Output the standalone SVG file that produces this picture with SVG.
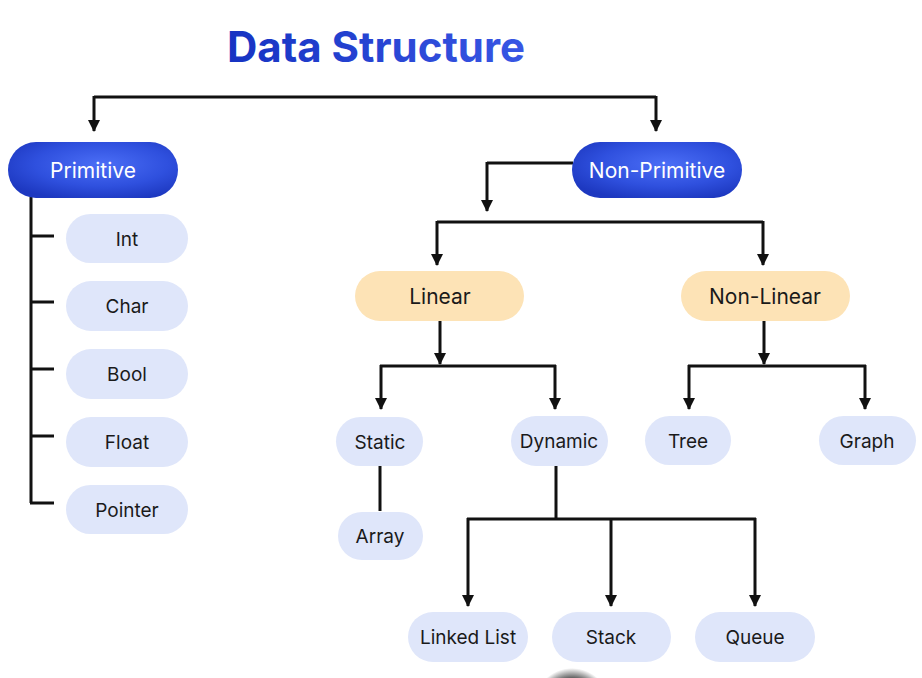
<svg xmlns="http://www.w3.org/2000/svg" width="922" height="678" viewBox="0 0 922 678">
<defs>
<radialGradient id="gBlue" cx="0.55" cy="0.4" r="0.65">
<stop offset="0" stop-color="#4b6ef6"/>
<stop offset="0.6" stop-color="#2f50de"/>
<stop offset="1" stop-color="#1d38c0"/>
</radialGradient>
<linearGradient id="gTitle" x1="0" y1="0" x2="1" y2="0">
<stop offset="0" stop-color="#1633c2"/>
<stop offset="1" stop-color="#3856e4"/>
</linearGradient>
<radialGradient id="gBlob" cx="0.5" cy="0.5" r="0.5">
<stop offset="0.7" stop-color="#4a4a4a"/>
<stop offset="1" stop-color="#4a4a4a" stop-opacity="0"/>
</radialGradient>
<marker id="arr" viewBox="0 0 12 12" refX="11" refY="6" markerWidth="12" markerHeight="12" markerUnits="userSpaceOnUse" orient="auto">
<path d="M0,0 L12,6 L0,12 Z" fill="#111"/>
</marker>
</defs>
<style>
text{font-family:Inter,"Liberation Sans",sans-serif;text-anchor:middle;dominant-baseline:central}
.title{font-size:42px;font-weight:700;fill:url(#gTitle)}
.dark rect{fill:url(#gBlue)}
.dark text{fill:#fff;font-size:21px}
.peach rect{fill:#fde3b6}
.peach text{fill:#1a1a1a;font-size:21px}
.leaf rect{fill:#dfe6fa}
.leaf text{fill:#1a1a1a;font-size:19px}
.c path{fill:none;stroke:#111;stroke-width:3}
.c .a{marker-end:url(#arr)}
</style>
<rect width="922" height="678" fill="#fff"/>
<text class="title" x="376" y="46">Data Structure</text>

<g class="c" id="connectors">
<path d="M94,97 H656"/>
<path class="a" d="M94,96 V131"/>
<path class="a" d="M656,96 V131"/>
<path d="M573,163 H487"/>
<path class="a" d="M487,162 V211"/>
<path d="M437,222 H763"/>
<path class="a" d="M437,221 V265"/>
<path class="a" d="M763,221 V265"/>
<path d="M31,197 V503"/>
<path d="M30,236 H54 M30,302 H54 M30,369 H54 M30,436 H54 M30,503 H54"/>
<path class="a" d="M440,321 V364"/>
<path d="M380,366 H556"/>
<path class="a" d="M381,365 V409"/>
<path class="a" d="M555,365 V409"/>
<path class="a" d="M764,321 V364"/>
<path d="M688,366 H866"/>
<path class="a" d="M689,365 V409"/>
<path class="a" d="M865,365 V409"/>
<path d="M380,466 V511"/>
<path d="M556,466 V519"/>
<path d="M467,519 H756"/>
<path class="a" d="M468,518 V606"/>
<path class="a" d="M611,518 V606"/>
<path class="a" d="M755,518 V606"/>
</g>

<g id="primitive" class="dark"><rect x="8" y="142" width="170" height="56" rx="28"/><text x="93" y="170">Primitive</text></g>
<g id="non-primitive" class="dark"><rect x="572" y="142" width="170" height="56" rx="28"/><text x="657" y="170">Non-Primitive</text></g>

<g id="int" class="leaf"><rect x="66" y="214" width="122" height="49" rx="24.5"/><text x="127" y="239">Int</text></g>
<g id="char" class="leaf"><rect x="66" y="281" width="122" height="50" rx="25"/><text x="127" y="306">Char</text></g>
<g id="bool" class="leaf"><rect x="66" y="349" width="122" height="50" rx="25"/><text x="127" y="374">Bool</text></g>
<g id="float" class="leaf"><rect x="66" y="417" width="122" height="50" rx="25"/><text x="127" y="442">Float</text></g>
<g id="pointer" class="leaf"><rect x="66" y="485" width="122" height="49" rx="24.5"/><text x="127" y="510">Pointer</text></g>

<g id="linear" class="peach"><rect x="355" y="271" width="169" height="50" rx="25"/><text x="440" y="296">Linear</text></g>
<g id="non-linear" class="peach"><rect x="681" y="271" width="169" height="50" rx="25"/><text x="765" y="296">Non-Linear</text></g>

<g id="static" class="leaf"><rect x="336" y="417" width="87" height="49" rx="24.5"/><text x="380" y="442">Static</text></g>
<g id="dynamic" class="leaf"><rect x="511" y="416" width="97" height="50" rx="25"/><text x="559" y="441">Dynamic</text></g>
<g id="tree" class="leaf"><rect x="645" y="416" width="86" height="49" rx="24.5"/><text x="688" y="441">Tree</text></g>
<g id="graph" class="leaf"><rect x="819" y="416" width="97" height="49" rx="24.5"/><text x="867" y="441">Graph</text></g>

<g id="array" class="leaf"><rect x="338" y="512" width="85" height="48" rx="24"/><text x="380" y="536">Array</text></g>

<g id="linked-list" class="leaf"><rect x="408" y="612" width="120" height="50" rx="25"/><text x="468" y="637">Linked List</text></g>
<g id="stack" class="leaf"><rect x="552" y="612" width="119" height="50" rx="25"/><text x="611" y="637">Stack</text></g>
<g id="queue" class="leaf"><rect x="695" y="612" width="120" height="50" rx="25"/><text x="755" y="637">Queue</text></g>

<ellipse cx="572" cy="706" rx="38" ry="38" fill="url(#gBlob)"/>
</svg>
